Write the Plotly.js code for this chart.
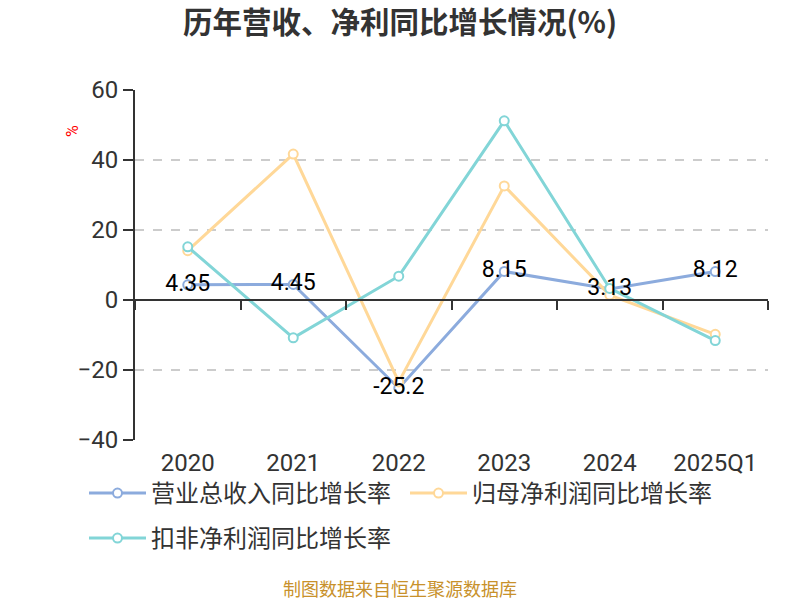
<!DOCTYPE html>
<html>
<head>
<meta charset="utf-8">
<script src="https://cdn.plot.ly/plotly-3.0.1.min.js"></script>
<style>html,body{margin:0;padding:0;background:#fff;}#chart{width:800px;height:600px;}</style>
</head>
<body>
<div id="chart"></div>
<script>
var categories = ['2020', '2021', '2022', '2023', '2024', '2025Q1'];
var revenueGrowth = [4.35, 4.45, -25.2, 8.15, 3.13, 8.12];
var netProfitGrowth = [14.1, 41.7, -23.4, 32.6, 1.4, -9.8];
var deductedProfitGrowth = [15.2, -10.8, 6.8, 51.2, 3.3, -11.6];
var seriesNames = ['营业总收入同比增长率', '归母净利润同比增长率', '扣非净利润同比增长率'];
var seriesColors = ['#8cabdd', '#ffd898', '#82d5d7'];
var yTicks = [-40, -20, 0, 20, 40, 60];

var cjk = '"Noto Sans CJK SC", "Noto Sans", sans-serif';
var num = 'Roboto, "Noto Sans", sans-serif';

function mk(i, ys, legendId) {
  return {
    type: 'scatter',
    x: categories,
    y: ys,
    name: seriesNames[i],
    legend: legendId,
    mode: 'lines+markers',
    line: {color: seriesColors[i], width: 3},
    marker: {symbol: 'circle', size: 9, color: '#ffffff', line: {color: seriesColors[i], width: 2}},
    hoverinfo: 'x+y'
  };
}

var traces = [
  mk(0, revenueGrowth, 'legend'),
  mk(1, netProfitGrowth, 'legend2'),
  mk(2, deductedProfitGrowth, 'legend3'),
  {
    type: 'scatter', x: categories, y: revenueGrowth, mode: 'text',
    text: revenueGrowth.map(function (v) { return String(v); }),
    textposition: 'middle center',
    textfont: {color: '#000000', size: 23, family: num},
    showlegend: false, hoverinfo: 'skip'
  }
];

var plotL = 135, plotR = 32, plotT = 90, plotB = 160;
var plotW = 800 - plotL - plotR, plotH = 600 - plotT - plotB;
function px2x(p) { return (p - plotL) / plotW; }
function px2y(p) { return (600 - plotB - p) / plotH; }

function legendAt(x, y) {
  return {
    orientation: 'h', xanchor: 'left', yanchor: 'top',
    x: px2x(x), y: px2y(y),
    font: {size: 24, color: '#333333', family: cjk},
    itemwidth: 57,
    traceorder: 'normal', bgcolor: 'rgba(0,0,0,0)'
  };
}

var layout = {
  width: 800, height: 600,
  margin: {l: plotL, r: plotR, t: plotT, b: plotB},
  paper_bgcolor: '#ffffff', plot_bgcolor: '#ffffff',
  title: {text: '<b>历年营收、净利同比增长情况(%)</b>', x: 0.5, xanchor: 'center', y: 1 - 23 / 600, yanchor: 'middle',
          font: {size: 29.5, color: '#333333', family: cjk}},
  xaxis: {
    type: 'category', categoryarray: categories, categoryorder: 'array',
    anchor: 'free', position: 0.4,
    showline: true, linecolor: '#333333', linewidth: 2,
    ticks: 'outside', tickson: 'boundaries', ticklen: 9, tickwidth: 2, tickcolor: '#333333',
    showgrid: false, zeroline: false,
    ticklabelstandoff: 141,
    tickfont: {size: 24, color: '#333333', family: num},
    range: [-0.5, 5.5]
  },
  yaxis: {
    range: [-40, 60], tickvals: yTicks,
    showline: true, linecolor: '#333333', linewidth: 2,
    ticks: 'outside', ticklen: 10, tickwidth: 2, tickcolor: '#333333',
    showgrid: true, gridcolor: '#cccccc', griddash: 'dash', gridwidth: 1.5,
    zeroline: false,
    tickfont: {size: 24, color: '#333333', family: num}
  },
  showlegend: true,
  legend: legendAt(84, 471),
  legend2: legendAt(405, 471),
  legend3: legendAt(84, 516),
  annotations: [
    {text: '%', xref: 'paper', yref: 'paper', x: px2x(72), y: px2y(131), xanchor: 'center', yanchor: 'middle',
     showarrow: false, textangle: -90, font: {size: 16, color: '#ff0000', family: num}},
    {text: '制图数据来自恒生聚源数据库', xref: 'paper', yref: 'paper', x: px2x(400), y: px2y(588),
     xanchor: 'center', yanchor: 'middle', showarrow: false, font: {size: 18, color: '#c8912b', family: cjk}}
  ]
};

Plotly.newPlot('chart', traces, layout, {displayModeBar: false, staticPlot: true});
</script>
</body>
</html>
